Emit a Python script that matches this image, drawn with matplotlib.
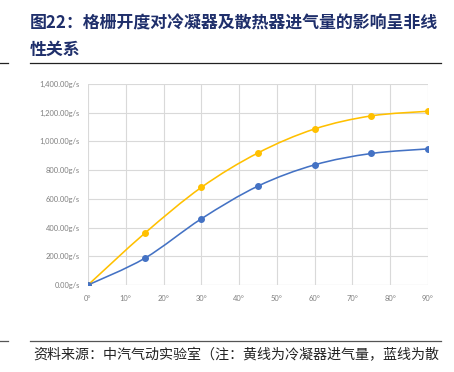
import matplotlib
matplotlib.use("Agg")
import matplotlib.pyplot as plt
from matplotlib.path import Path
from matplotlib.patches import PathPatch
import numpy as np

plt.rcParams['font.family'] = ['Noto Sans CJK SC', 'DejaVu Sans']

# data
angles = [0, 15, 30, 45, 60, 75, 90]
condenser = [0, 360, 680, 920, 1087, 1178, 1210]   # yellow
radiator = [0, 186, 461, 689, 837, 916, 948]       # blue
x_ticks = list(range(0, 91, 10))
y_ticks = list(range(0, 1401, 200))

title_1 = "图22：格栅开度对冷凝器及散热器进气量的影响呈非线"
title_2 = "性关系"
source = "资料来源：中汽气动实验室（注：黄线为冷凝器进气量，蓝线为散"

YELLOW = "#FFC000"
BLUE = "#4472C4"


def smooth_path(xs, ys):
    # Catmull-Rom style smoothing like Excel's "smoothed line"
    pts = np.column_stack([xs, ys]).astype(float)
    verts = [pts[0]]
    codes = [Path.MOVETO]
    n = len(pts)
    for i in range(n - 1):
        p0 = pts[i - 1] if i > 0 else pts[i]
        p1 = pts[i]
        p2 = pts[i + 1]
        p3 = pts[i + 2] if i + 2 < n else pts[i + 1]
        c1 = p1 + (p2 - p0) / 6.0
        c2 = p2 - (p3 - p1) / 6.0
        verts += [c1, c2, p2]
        codes += [Path.CURVE4] * 3
    return Path(verts, codes)


fig = plt.figure(figsize=(4.54, 3.72), dpi=100)
ax = fig.add_axes([88 / 454, 1 - 285 / 372, 340 / 454, 201 / 372])

for ys, col in [(condenser, YELLOW), (radiator, BLUE)]:
    ax.add_patch(PathPatch(smooth_path(angles, ys), facecolor='none',
                           edgecolor=col, lw=1.15, zorder=3))
    ax.plot(angles, ys, ls='none', marker='o', ms=4.0, color=col, zorder=4)

ax.set_xlim(0, 90)
ax.set_ylim(0, 1400)
ax.set_xticks(x_ticks)
ax.set_yticks(y_ticks)
ax.set_xticklabels([f"{t}°" for t in x_ticks])
ax.set_yticklabels(["{:,.2f}g/s".format(t) for t in y_ticks])
for lab in ax.get_xticklabels() + ax.get_yticklabels():
    lab.set_family(['Lato', 'DejaVu Sans'])
ax.tick_params(length=0, labelsize=5.4, labelcolor='#7f7f7f')
ax.tick_params(axis='y', pad=6)
ax.tick_params(axis='x', pad=7)
ax.grid(True, color='#d9d9d9', lw=0.8)
ax.set_axisbelow(True)
for s in ax.spines.values():
    s.set_visible(False)
ax.axhline(0, color='#d9d9d9', lw=0.8, zorder=1)

# title and rules
fig.text(30 / 454, 1 - 23 / 372, title_1, fontsize=12.2, fontweight='bold',
         color='#1f2f6b', va='center', ha='left')
fig.text(30 / 454, 1 - 50 / 372, title_2, fontsize=12.2, fontweight='bold',
         color='#1f2f6b', va='center', ha='left')
fig.add_artist(plt.Line2D([30 / 454, 441 / 454], [1 - 63 / 372] * 2,
                          color='#222222', lw=0.9))
fig.add_artist(plt.Line2D([0, 8 / 454], [1 - 63 / 372] * 2,
                          color='#222222', lw=0.9))
fig.add_artist(plt.Line2D([30 / 454, 441 / 454], [1 - 341 / 372] * 2,
                          color='#555555', lw=0.9))
fig.add_artist(plt.Line2D([0, 8 / 454], [1 - 341 / 372] * 2,
                          color='#555555', lw=0.9))
fig.text(33 / 454, 1 - 355 / 372, source, fontsize=10.1, color='#222222',
         va='center', ha='left')

fig.savefig("out.png", dpi=100)
